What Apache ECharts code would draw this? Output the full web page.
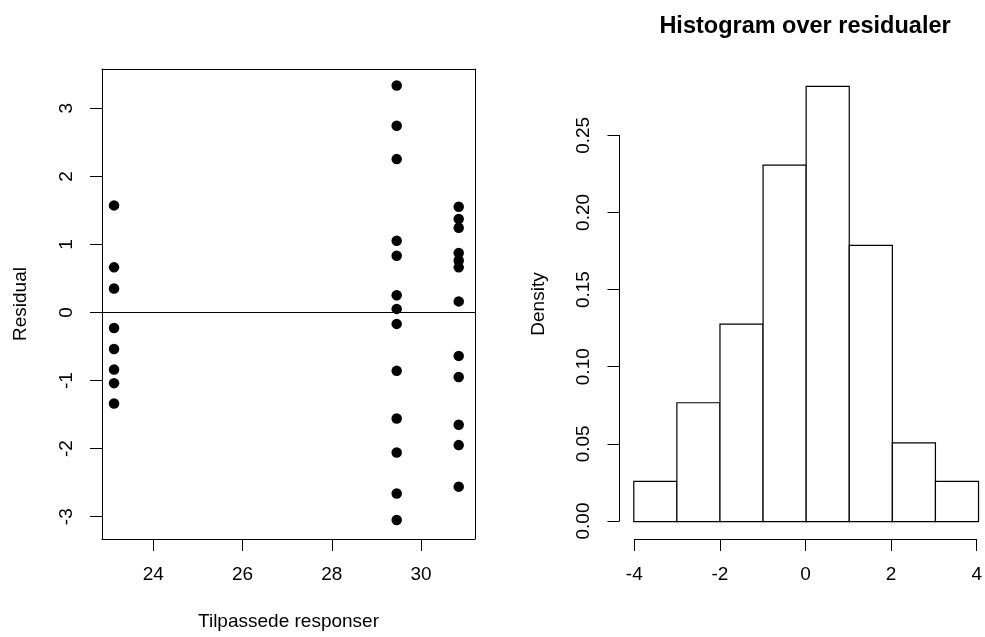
<!DOCTYPE html>
<html>
<head>
<meta charset="utf-8">
<script src="https://cdn.jsdelivr.net/npm/echarts@6/dist/echarts.min.js"></script>
<style>
  html, body { margin: 0; padding: 0; background: #fff; }
  #chart { width: 985px; height: 637px; }
</style>
</head>
<body>
<div id="chart"></div>
<script>
// fitted values and residuals
const fitted = [
  23.12, 23.12, 23.12, 23.12, 23.12, 23.12, 23.12, 23.12,
  29.455, 29.455, 29.455, 29.455, 29.455, 29.455, 29.455, 29.455, 29.455, 29.455, 29.455, 29.455, 29.455,
  30.845, 30.845, 30.845, 30.845, 30.845, 30.845, 30.845, 30.845, 30.845, 30.845, 30.845, 30.845
]
const residuals = [
  1.57, 0.66, 0.35, -0.23, -0.54, -0.84, -1.04, -1.34,
  3.33, 2.74, 2.25, 1.05, 0.83, 0.25, 0.05, -0.17, -0.86, -1.56, -2.06, -2.66, -3.05,
  1.55, 1.37, 1.24, 0.87, 0.76, 0.66, 0.16, -0.64, -0.95, -1.65, -1.95, -2.56
]

// histogram
const breaks = [-4, -3, -2, -1, 0, 1, 2, 3, 4]
const density = [0.026, 0.077, 0.128, 0.231, 0.282, 0.179, 0.051, 0.026]

const xTicksLeft = [24, 30]
const yTicksLeft = [-3, 3]
const xTicksHist = [-4, 4]
const yTicksHist = [0, 0.25]

const font = 'Liberation Sans'
const ink = '#000'

const points = fitted.map((x, i) => [x, residuals[i]])
const bins = density.map((d, i) => [breaks[i], breaks[i + 1], d])

const chart = echarts.init(document.getElementById('chart'), null, { renderer: 'canvas' })

// axes that only draw ticks + labels (R style, from first to last tick)
const tickAxis = (extra) => Object.assign({
  type: 'value',
  axisLine: { show: true, onZero: false, lineStyle: { color: ink, width: 1 } },
  axisTick: { show: true, inside: false, length: 12, lineStyle: { color: ink, width: 1 } },
  axisLabel: { color: ink, fontFamily: font, fontSize: 19, margin: 26 },
  splitLine: { show: false }
}, extra)

// axes for the data, or the unused half of a tick grid: hidden except for an optional title
const dataAxis = (extra) => Object.assign({
  type: 'value',
  axisLine: { show: false, onZero: false },
  axisTick: { show: false },
  axisLabel: { show: false },
  splitLine: { show: false },
  nameLocation: 'middle',
  nameTextStyle: { color: ink, fontFamily: font, fontSize: 19 }
}, extra)

// the frame round the scatter panel, one side per axis
const frameLine = { show: true, onZero: false, lineStyle: { color: ink, width: 1 } }

const option = {
  animation: false,
  backgroundColor: '#fff',
  title: {
    text: 'Histogram over residualer',
    left: 800,
    top: 10,
    textAlign: 'center',
    textStyle: { color: ink, fontFamily: font, fontSize: 23.5, fontWeight: 'bold' }
  },
  grid: [
    // 0 scatter: plot region
    { left: 102, top: 69, width: 373, height: 470 },
    // 1 scatter: x tick span
    { left: 153.3, top: 69, width: 267.7, height: 470 },
    // 2 scatter: y tick span
    { left: 102, top: 108.3, width: 373, height: 408.4 },
    // 3 histogram: plot region (cut at the right edge of the window)
    { left: 620, top: 69, width: 365, height: 470 },
    // 4 histogram: x tick span
    { left: 634.3, top: 69, width: 344.7, height: 470 },
    // 5 histogram: y tick span
    { left: 619.5, top: 135.3, width: 365, height: 385.7 }
  ],
  xAxis: [
    dataAxis({ gridIndex: 0, position: 'bottom', min: 22.85, max: 31.21, name: 'Tilpassede responser', nameGap: 73, axisLine: frameLine }),
    dataAxis({ gridIndex: 0, position: 'top', min: 22.85, max: 31.21, axisLine: frameLine }),
    tickAxis({ gridIndex: 1, min: xTicksLeft[0], max: xTicksLeft[1], interval: 2 }),
    dataAxis({ gridIndex: 2, min: 0, max: 1 }),
    dataAxis({ gridIndex: 3, min: -4.32, max: 4.15 }),
    tickAxis({ gridIndex: 4, min: xTicksHist[0], max: xTicksHist[1], interval: 2 }),
    dataAxis({ gridIndex: 5, min: 0, max: 1 })
  ],
  yAxis: [
    dataAxis({ gridIndex: 0, position: 'left', min: -3.329, max: 3.573, name: 'Residual', nameGap: 72, nameRotate: 90, axisLine: frameLine }),
    dataAxis({ gridIndex: 0, position: 'right', min: -3.329, max: 3.573, axisLine: frameLine }),
    dataAxis({ gridIndex: 1, min: 0, max: 1 }),
    tickAxis({ gridIndex: 2, min: yTicksLeft[0], max: yTicksLeft[1], interval: 1,
      axisLabel: { color: ink, fontFamily: font, fontSize: 19, margin: 26, rotate: 90 } }),
    dataAxis({ gridIndex: 3, min: -0.0113, max: 0.2933, name: 'Density', nameGap: 72, nameRotate: 90 }),
    dataAxis({ gridIndex: 4, min: 0, max: 1 }),
    tickAxis({ gridIndex: 5, min: yTicksHist[0], max: yTicksHist[1], interval: 0.05,
      axisLabel: { color: ink, fontFamily: font, fontSize: 19, margin: 26, rotate: 90,
        formatter: (v) => v.toFixed(2) } })
  ],
  series: [
    {
      type: 'scatter',
      xAxisIndex: 0,
      yAxisIndex: 0,
      data: points,
      symbol: 'circle',
      symbolSize: 10.5,
      itemStyle: { color: '#000', opacity: 1 },
      markLine: {
        silent: true,
        symbol: 'none',
        label: { show: false },
        lineStyle: { color: ink, width: 1, type: 'solid' },
        data: [{ yAxis: 0 }]
      }
    },
    {
      type: 'custom',
      xAxisIndex: 4,
      yAxisIndex: 4,
      data: bins,
      renderItem: (params, api) => {
        const p0 = api.coord([api.value(0), api.value(2)])
        const p1 = api.coord([api.value(1), 0])
        return {
          type: 'rect',
          shape: { x: p0[0], y: p0[1], width: p1[0] - p0[0], height: p1[1] - p0[1] },
          style: { fill: '#fff', stroke: ink, lineWidth: 1.2 }
        }
      }
    }
  ]
}

chart.setOption(option)
</script>
</body>
</html>
